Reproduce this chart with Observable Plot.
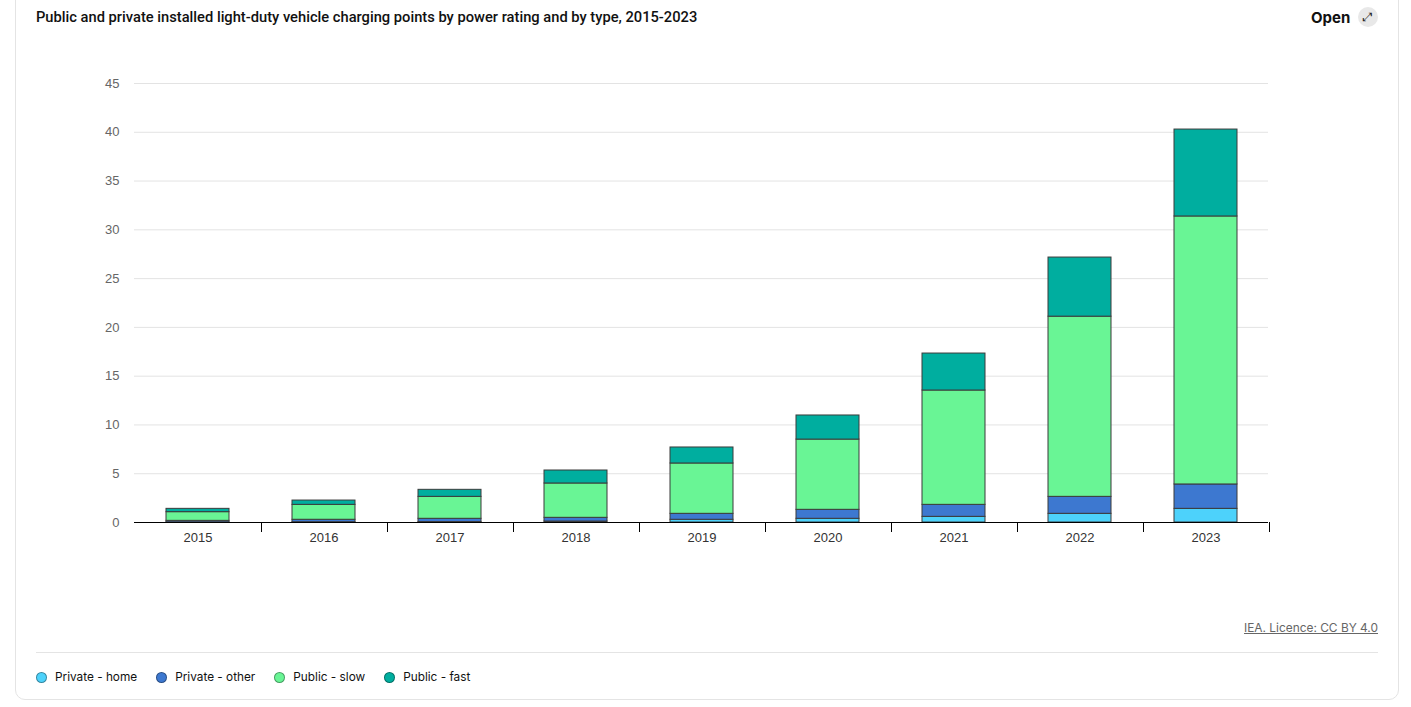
<!DOCTYPE html>
<html><head><meta charset="utf-8">
<script src="https://cdn.jsdelivr.net/npm/d3@7"></script>
<script src="https://cdn.jsdelivr.net/npm/@observablehq/plot@0.6"></script>
<style>
body{margin:0;width:1411px;height:707px;overflow:hidden;background:#fff;position:relative;font-family:Inter,"Noto Sans",sans-serif}
.card{position:absolute;left:15px;top:-14px;width:1384px;height:714px;border:1px solid #e4e4e4;border-radius:10px;box-sizing:border-box}
.title{position:absolute;left:36px;top:8px;font-family:Roboto,sans-serif;font-weight:500;font-size:14.7px;color:#111;white-space:nowrap}
.open{position:absolute;left:1311px;top:8px;font-family:Inter,sans-serif;font-weight:700;font-size:15px;color:#111}
.openicon{position:absolute;left:1358px;top:7px;width:20px;height:20px;border-radius:50%;background:#e8e8e8;font-family:"DejaVu Sans";font-size:12px;line-height:20px;text-align:center;color:#222}
#chart{position:absolute;left:0;top:40px}
.credit{position:absolute;right:33px;top:620px;font-size:11.9px;color:#666;text-decoration:underline;font-family:Inter,sans-serif}
.sep{position:absolute;left:36px;top:652px;width:1342px;height:1px;background:#e4e4e4}
.legend{position:absolute;left:36px;top:670px;display:flex;gap:19px;font-size:11.8px;color:#111;font-family:Inter,sans-serif}
.legend .it{display:flex;align-items:center}
.legend .sw{width:9px;height:9px;border-radius:50%;margin-right:8px;border:1px solid rgba(0,0,0,0.35)}
</style>
</head><body>
<div class="card"></div>
<div class="title">Public and private installed light-duty vehicle charging points by power rating and by type, 2015-2023</div>
<div class="open">Open</div><div class="openicon">⤢</div>
<div id="chart"></div>
<div class="credit">IEA. Licence: CC BY 4.0</div>
<div class="sep"></div>
<div class="legend" id="legend"></div>
<script>
const years = ["2015","2016","2017","2018","2019","2020","2021","2022","2023"];
const types = ["Private - home","Private - other","Public - slow","Public - fast"];
const colors = ["#4dd2fb","#3d78d0","#69f595","#00ae9f"];
const privateHome  = [0.02, 0.03, 0.05, 0.10, 0.28, 0.38, 0.58, 0.89, 1.40];
const privateOther = [0.15, 0.25, 0.33, 0.38, 0.61, 0.92, 1.23, 1.74, 2.50];
const publicSlow   = [0.89, 1.53, 2.25, 3.52, 5.16, 7.20, 11.72, 18.47, 27.47];
const publicFast   = [0.34, 0.44, 0.72, 1.33, 1.64, 2.47, 3.79, 6.06, 8.91];
const yTicks = [0,5,10,15,20,25,30,35,40,45];

const series = [privateHome, privateOther, publicSlow, publicFast];
const data = [];
years.forEach((yr, i) => types.forEach((t, k) => data.push({year: yr, type: t, value: series[k][i]})));

function bandBoundaries() {
  return (index, scales, values, dims) => {
    const x = scales.x, y = scales.y;
    const g = d3.create("svg:g").attr("stroke", "#000").attr("stroke-width", 1);
    const y0 = y(0);
    years.forEach(yr => {
      const xb = Math.round(x(yr) + x.bandwidth() + (x.step() - x.bandwidth()) / 2) + 0.5;
      g.append("line").attr("x1", xb).attr("x2", xb).attr("y1", y0).attr("y2", y0 + 10);
    });
    return g.node();
  };
}

const chart = Plot.plot({
  width: 1411,
  height: 540,
  marginLeft: 134,
  marginRight: 143,
  marginTop: 43,
  marginBottom: 58,
  style: {fontFamily: "'Liberation Sans', Arial, sans-serif", fontSize: "13px", background: "transparent"},
  x: {domain: years, paddingInner: 0.5, paddingOuter: 0.25, label: null},
  y: {domain: [0, 45], label: null},
  color: {domain: types, range: colors},
  marks: [
    Plot.gridY(yTicks.filter(d => d > 0), {stroke: "#e3e3e3", strokeOpacity: 1}),
    Plot.axisY(yTicks, {tickSize: 0, tickPadding: 15, fill: "#666", label: null}),
    Plot.axisX({tickSize: 0, tickPadding: 10, fill: "#333", label: null}),
    Plot.barY(data, {x: "year", y: "value", fill: "type", order: types, stroke: "#3b3b3b", strokeWidth: 1}),
    Plot.ruleY([0], {stroke: "#000", strokeWidth: 1.2}),
    bandBoundaries()
  ]
});
document.getElementById("chart").appendChild(chart);

const lg = d3.select("#legend");
types.forEach((t, k) => {
  const it = lg.append("div").attr("class", "it");
  it.append("span").attr("class", "sw").style("background", colors[k]);
  it.append("span").text(t);
});
</script>
</body></html>
